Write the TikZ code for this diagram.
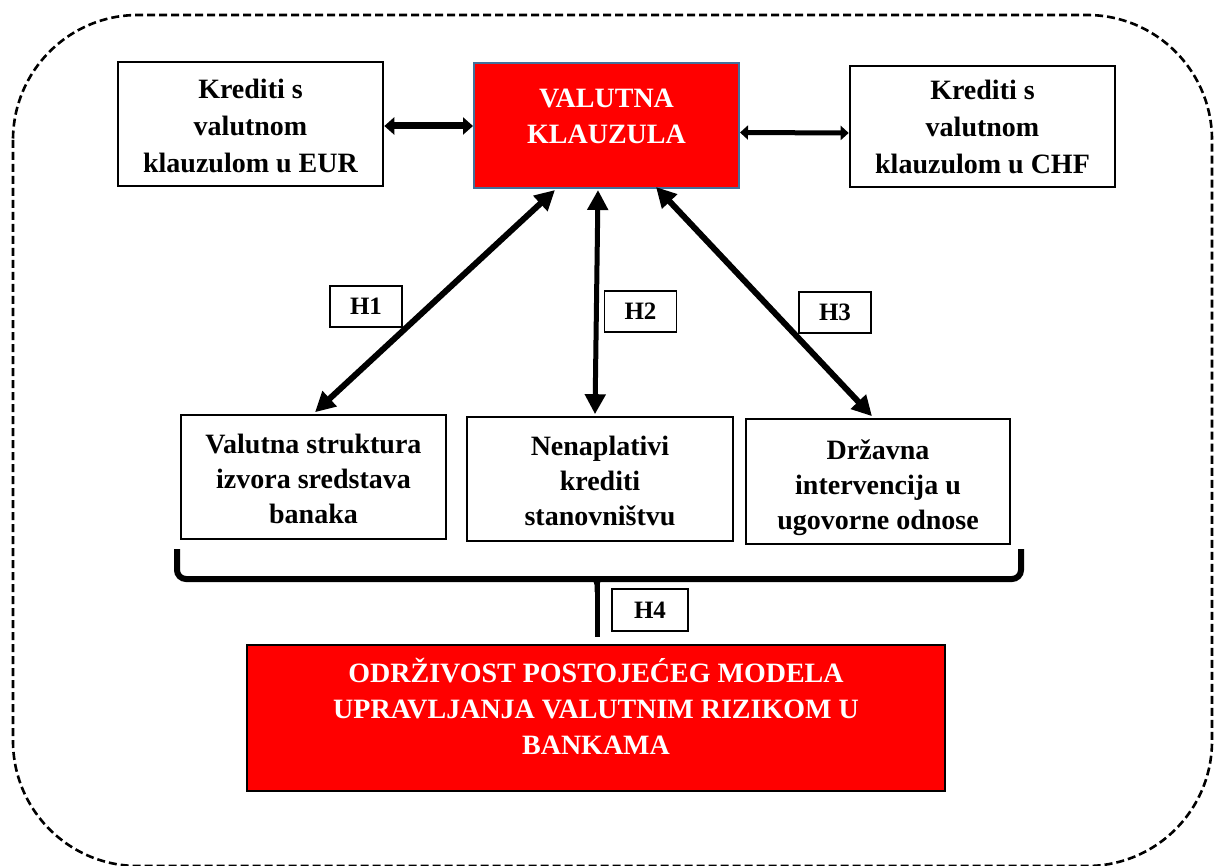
\documentclass[tikz,border=0pt]{standalone}
\usepackage{fontspec}
\setmainfont{Liberation Serif}
\usetikzlibrary{arrows.meta,calc}
\definecolor{vkred}{HTML}{FF0000}
\definecolor{vkborder}{HTML}{41719C}
\newcommand{\mycell}[2]{\raisebox{#1}[0pt][0pt]{\begin{tabular}{@{}c@{}}#2\end{tabular}}}
\begin{document}
\begin{tikzpicture}[x=1pt,y=-1pt,
  wbox/.style={draw=black,line width=2.6pt,fill=white,inner sep=0pt,
    font=\bfseries\fontsize{28}{37}\selectfont},
  lowbox/.style={wbox,font=\bfseries\fontsize{28}{35}\selectfont},
  redbox/.style={fill=vkred,inner sep=0pt,text=white,
    font=\bfseries\fontsize{28}{36}\selectfont},
  hbox/.style={draw=black,line width=1.4pt,fill=white,inner sep=0pt,
    minimum width=72pt,minimum height=41pt,font=\bfseries\fontsize{25}{25}\selectfont},
  bigarrow/.style={line width=6pt,{Triangle[length=20pt,width=20pt]}-{Triangle[length=20pt,width=20pt]}},
]
\useasboundingbox (0,0) rectangle (1214,866);
% outer dashed frame
\draw[line width=2.6pt,dash pattern=on 8pt off 4pt,rounded corners=125pt] (13,15) rectangle (1212,866);

% top row
\node[wbox,minimum width=265pt,minimum height=124pt] (eur) at (250.5,124)
  {\mycell{-10.6pt}{Krediti s\\valutnom\\klauzulom u EUR}};
\node[redbox,draw=vkborder,line width=2pt,minimum width=265pt,minimum height=125pt] (vk) at (606.5,125.5)
  {\mycell{1pt}{VALUTNA\\KLAUZULA}};
\node[wbox,minimum width=265pt,minimum height=121pt] (chf) at (982.5,126.5)
  {\mycell{-9pt}{Krediti s\\valutnom\\klauzulom u CHF}};

% middle row
\node[lowbox,minimum width=265pt,minimum height=124pt] (lft) at (313.5,477)
  {\mycell{-11pt}{Valutna struktura\\izvora sredstava\\banaka}};
\node[lowbox,minimum width=266pt,minimum height=124pt] (mid) at (600,479)
  {\mycell{-11pt}{Nenaplativi\\krediti\\stanovništvu}};
\node[lowbox,minimum width=264pt,minimum height=125pt] (rgt) at (878,481.5)
  {\mycell{-12pt}{Državna\\intervencija u\\ugovorne odnose}};

% bottom red box
\node[redbox,draw=black,line width=2.6pt,minimum width=698pt,minimum height=146pt] (bot) at (596,718)
  {\mycell{0.4pt}{ODRŽIVOST POSTOJEĆEG MODELA\\UPRAVLJANJA VALUTNIM RIZIKOM U\\BANKAMA}};

% horizontal arrows
\draw[line width=7pt,{Triangle[length=10pt,width=17pt]}-{Triangle[length=10pt,width=17pt]}]
  ([yshift=-2pt]eur.east) -- ([yshift=-0.5pt]vk.west);
\draw[line width=5pt,{Triangle[length=8pt,width=14pt]}-{Triangle[length=8pt,width=14pt]}]
  ([yshift=-7pt]vk.east) -- ([yshift=-6.5pt]chf.west);

% diagonal arrows
\draw[bigarrow] ([xshift=-51.5pt,yshift=-1pt]vk.south) -- ([xshift=1.5pt,yshift=1.5pt]lft.north);
\draw[bigarrow,line width=5pt] ([xshift=-8.5pt,yshift=-1pt]vk.south) -- ([xshift=-5pt,yshift=1.5pt]mid.north);
\draw[bigarrow] ([xshift=49.5pt,yshift=2pt]vk.south) -- ([xshift=-6pt,yshift=1.5pt]rgt.north);

% hypothesis labels
\node[hbox] (h1) at (366,306.5) {H1};
\node[hbox] (h2) at (640.5,311.5) {H2};
\node[hbox] (h3) at (835,312.5) {H3};
\node[hbox,minimum width=76pt,minimum height=42pt] (h4) at (650,610) {H4};

% brace
\coordinate (bl) at (177,549);
\coordinate (br) at (1021,549);
\coordinate (bml) at (177,579);
\coordinate (bmr) at (1021,579);
\coordinate (bc) at (597,579);
\coordinate (bs) at (597,637);
\draw[line width=6pt,rounded corners=9pt] (bl) -- (bml) -- (bmr) -- (br);
\draw[line width=5pt] (bc) -- (bs);
\fill (586,580) .. controls (595,581) .. (594.5,592) -- (599.5,592) .. controls (599,581) .. (608,580) -- cycle;
\end{tikzpicture}
\end{document}
